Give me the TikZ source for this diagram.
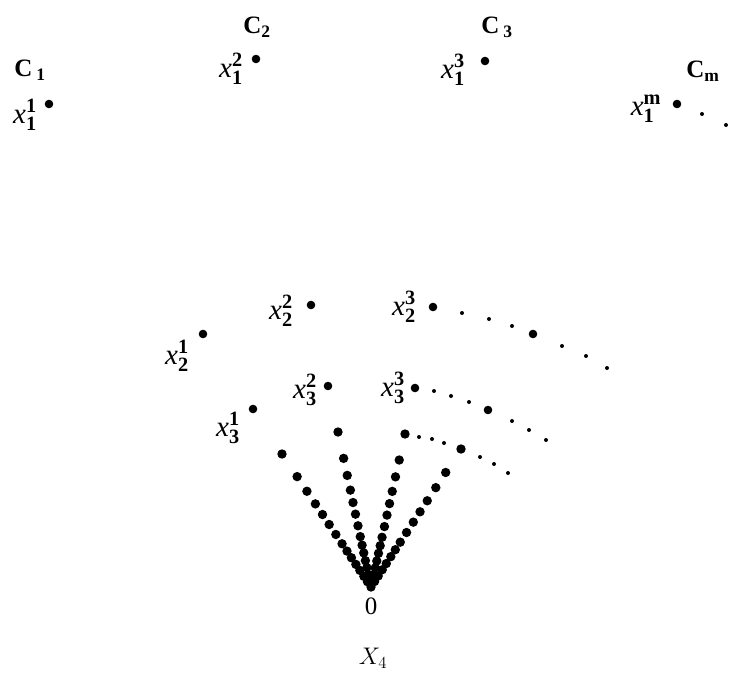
\RequirePackage{fix-cm}
\documentclass[tikz,border=0pt]{standalone}
\usepackage{amsmath}
\usepackage{fontspec}
\newfontfamily\tnr{Liberation Serif}
\usetikzlibrary{calc}
\newcommand\xlab[2]{$\textit{x}^{\textbf{#2}}_{\textbf{#1}}$}
\begin{document}
\begin{tikzpicture}[x=1pt,y=-1pt,
  bigdot/.style={circle,fill=black,inner sep=0pt,minimum size=8.6pt},
  smalldot/.style={circle,fill=black,inner sep=0pt,minimum size=4pt},
  fandot/.style={circle,fill=black,inner sep=0pt,minimum size=9.4pt},
  xl/.style={inner sep=0pt,font=\tnr\fontsize{29}{32}\selectfont},
  cl/.style={inner sep=0pt,font=\tnr\fontsize{25}{28}\selectfont\bfseries},
  zl/.style={inner sep=0pt,font=\tnr\fontsize{25}{28}\selectfont}]
\useasboundingbox (0,0) rectangle (744,675);
% ---- row 1 (x_1) ----
\node[cl] (C1) at (30,70) {C\,$_{\text{\bfseries 1}}$};
\node[cl] (C2) at (257,27) {C$_{\text{\bfseries 2}}$};
\node[cl] (C3) at (497,27) {C\,$_{\text{\bfseries 3}}$};
\node[cl] (Cm) at (703,71) {C$_{\text{\bfseries m}}$};
\node[bigdot] (d11) at (49,104) {};
\node[bigdot] (d12) at (256,59) {};
\node[bigdot] (d13) at (485,61) {};
\node[bigdot] (d1m) at (677,104) {};
\node[smalldot] (s1a) at (702,114) {};
\node[smalldot] (s1b) at (726,125) {};
\node[xl] (l11) at (25,115) {\xlab{1}{1}};
\node[xl] (l12) at (231,69) {\xlab{1}{2}};
\node[xl] (l13) at (453,70) {\xlab{1}{3}};
\node[xl] (l1m) at (646,109) {\xlab{1}{m}};
% ---- row 2 (x_2) ----
\node[bigdot] (d21) at (203,334) {};
\node[bigdot] (d22) at (311,305) {};
\node[bigdot] (d23) at (433,307) {};
\node[xl] (l21) at (177,356) {\xlab{2}{1}};
\node[xl] (l22) at (281,311) {\xlab{2}{2}};
\node[xl] (l23) at (404,307) {\xlab{2}{3}};
\foreach \p [count=\i] in {(462,313),(489,319),(512,326),(562,346),(586,356),(607,368)}
  \node[smalldot] (s2-\i) at \p {};
\node[bigdot] (d24) at (533,334) {};
% ---- row 3 (x_3) ----
\node[bigdot] (d31) at (253,409) {};
\node[bigdot] (d32) at (328,386) {};
\node[bigdot] (d33) at (415,388) {};
\node[xl] (l31) at (228,428) {\xlab{3}{1}};
\node[xl] (l32) at (305,390) {\xlab{3}{2}};
\node[xl] (l33) at (393,388) {\xlab{3}{3}};
\foreach \p [count=\i] in {(434,391),(451,396),(469,402),(512,421),(529,430),(546,440)}
  \node[smalldot] (s3-\i) at \p {};
\node[bigdot] (d34) at (488,410) {};
% ---- fan ----
\node[fandot] (O) at (371,587) {};
\node[fandot] (f1) at (282,454) {};
\node[fandot] (f2) at (338,432) {};
\node[fandot] (f3) at (405,434) {};
\node[fandot] (f4) at (461,449) {};
\foreach \p [count=\i] in {(419,437),(432,439),(444,443),(480,457),(494,464),(508,473)}
  \node[smalldot] (s4-\i) at \p {};
\foreach \r in {f1,f2,f3,f4}
  \foreach \f [count=\i] in {.83,.72,.625,.545,.47,.395,.325,.27,.22,.17,.125,.08,.04}
    \node[fandot] (\r-\i) at ($(O)!\f!(\r)$) {};
\node[zl] (zero) at (371,606) {0};
\node[inner sep=0pt,font=\fontsize{24}{28}\selectfont] (X4) at (373,658) {$X_4$};
\end{tikzpicture}
\end{document}
